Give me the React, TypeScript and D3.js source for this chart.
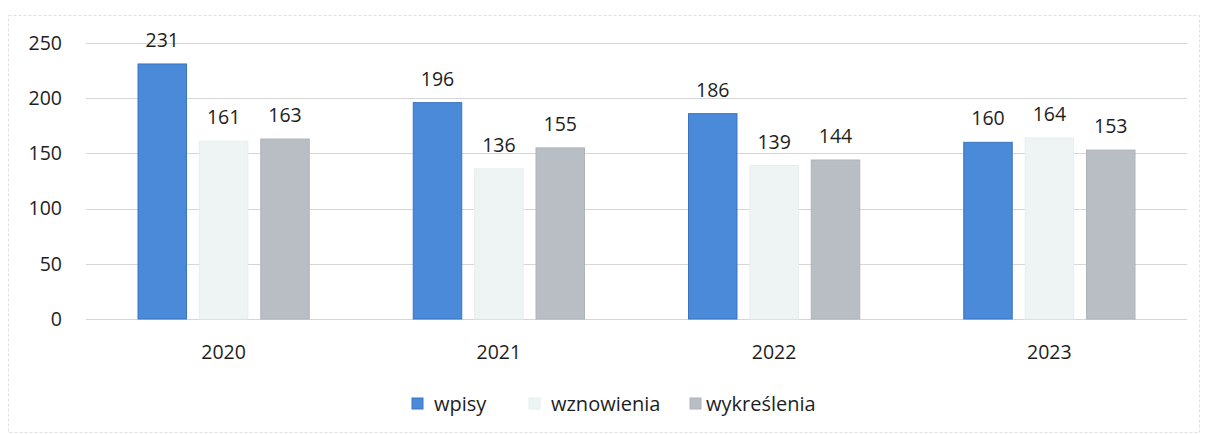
import { useEffect, useRef } from 'react';
import * as d3 from 'd3';

const years = ['2020', '2021', '2022', '2023'];
const seriesNames = ['wpisy', 'wznowienia', 'wykreślenia'];
const wpisy = [231, 196, 186, 160];
const wznowienia = [161, 136, 139, 164];
const wykreslenia = [163, 155, 144, 153];
const yTicks = [0, 50, 100, 150, 200, 250];

export default function App() {
  const svgRef = useRef<SVGSVGElement>(null);

  useEffect(() => {
    if (!svgRef.current) return;
    const svg = d3.select(svgRef.current);
    svg.selectAll('*').remove();

    const W = 1205;
    const H = 435;
    const font = '"Open Sans", "DejaVu Sans", sans-serif';
    const colors = ['#4a8ad9', '#eef4f4', '#b9bdc4'];
    const strokes = ['#3a74c0', '#e6eeee', '#aeb2ba'];
    const values = [wpisy, wznowienia, wykreslenia];

    const margin = { top: 43, right: 18, bottom: 116, left: 86 };
    const width = W - margin.left - margin.right;
    const height = H - margin.top - margin.bottom;

    // frame of the chart area
    svg.append('rect')
      .attr('x', 8.5).attr('y', 15.5)
      .attr('width', W - 14).attr('height', H - 18)
      .attr('fill', 'none')
      .attr('stroke', '#e0e0e0')
      .attr('stroke-dasharray', '3,2');

    const x0 = d3.scaleBand().domain(years).range([0, width]).paddingInner(0).paddingOuter(0);
    const x1 = d3.scaleBand().domain(seriesNames).range([52, x0.bandwidth() - 52]).paddingInner(0.21);
    const y = d3.scaleLinear().domain([0, 250]).range([height, 0]);

    const g = svg.append('g').attr('transform', `translate(${margin.left},${margin.top})`);

    g.append('g')
      .selectAll('line')
      .data(yTicks)
      .enter().append('line')
      .attr('x1', 0).attr('x2', width)
      .attr('y1', d => Math.round(y(d)) + 0.5).attr('y2', d => Math.round(y(d)) + 0.5)
      .attr('stroke', '#d6d6d6')
      .attr('stroke-width', 1);

    g.append('g')
      .selectAll('text')
      .data(yTicks)
      .enter().append('text')
      .attr('x', -24)
      .attr('y', d => y(d))
      .attr('dy', '0.35em')
      .attr('text-anchor', 'end')
      .style('font-family', font)
      .style('font-size', '19.5px')
      .attr('fill', '#1e1e1e')
      .text(d => d);

    const groups = g.selectAll('.year')
      .data(years)
      .enter().append('g')
      .attr('transform', d => `translate(${x0(d)},0)`);

    seriesNames.forEach((s, si) => {
      groups.append('rect')
        .attr('x', x1(s)!)
        .attr('y', (_d, i) => y(values[si][i]))
        .attr('width', x1.bandwidth())
        .attr('height', (_d, i) => height - y(values[si][i]))
        .attr('fill', colors[si])
        .attr('stroke', strokes[si])
        .attr('stroke-width', 1);

      groups.append('text')
        .attr('x', x1(s)! + x1.bandwidth() / 2)
        .attr('y', (_d, i) => y(values[si][i]) - 17)
        .attr('text-anchor', 'middle')
        .style('font-family', font)
        .style('font-size', '19.5px')
        .attr('fill', '#1e1e1e')
        .text((_d, i) => values[si][i]);
    });

    groups.append('text')
      .attr('x', x0.bandwidth() / 2)
      .attr('y', height + 40)
      .attr('text-anchor', 'middle')
      .style('font-family', font)
      .style('font-size', '19.5px')
      .attr('fill', '#1e1e1e')
      .text(d => d);

    const legendX = [412, 529, 690];
    const legend = svg.append('g').attr('transform', 'translate(0,398)');
    const items = legend.selectAll('.legend-item')
      .data(seriesNames)
      .enter().append('g')
      .attr('transform', (_d, i) => `translate(${legendX[i]},0)`);

    items.append('rect')
      .attr('width', 11).attr('height', 11)
      .attr('fill', (_d, i) => colors[i])
      .attr('stroke', (_d, i) => strokes[i]);

    items.append('text')
      .attr('x', (_d, i) => (i === 2 ? 16 : 22))
      .attr('y', 6)
      .attr('dy', '0.35em')
      .style('font-family', font)
      .style('font-size', '20px')
      .attr('fill', '#1e1e1e')
      .text(d => d);
  }, []);

  return (
    <svg ref={svgRef} width={1205} height={435} style={{ position: 'absolute', left: 0, top: 0, background: '#fff' }} />
  );
}
